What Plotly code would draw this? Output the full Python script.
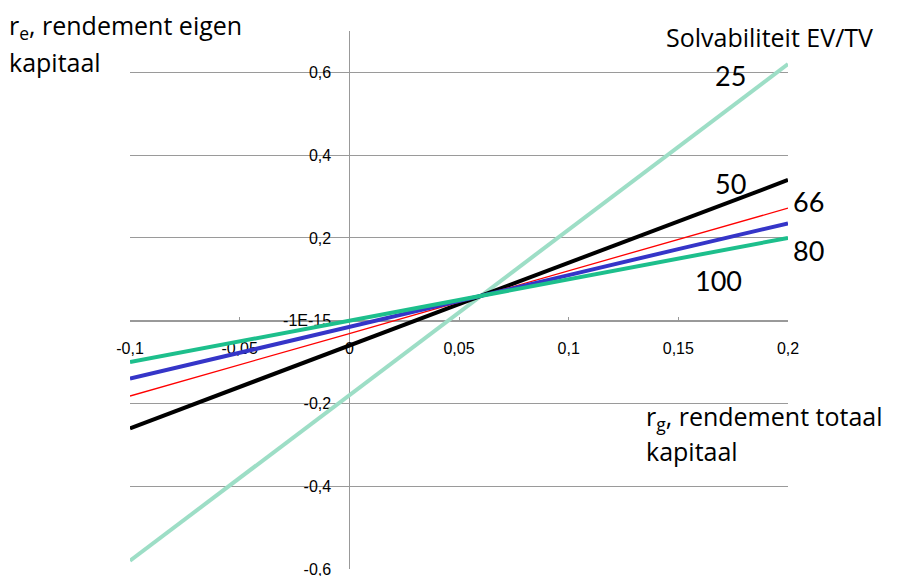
import plotly.graph_objects as go

# Data
rg = [-0.1, -0.05, 0, 0.05, 0.1, 0.15, 0.2]
re_25 = [-0.58, -0.38, -0.18, 0.02, 0.22, 0.42, 0.62]
re_50 = [-0.26, -0.16, -0.06, 0.04, 0.14, 0.24, 0.34]
re_66 = [-0.182, -0.107, -0.031, 0.045, 0.121, 0.196, 0.272]
re_80 = [-0.14, -0.078, -0.015, 0.048, 0.11, 0.173, 0.235]
re_100 = [-0.1, -0.05, 0, 0.05, 0.1, 0.15, 0.2]

x_tickvals = [-0.1, -0.05, 0, 0.05, 0.1, 0.15, 0.2]
x_ticktext = ["-0,1", "-0,05", "0", "0,05", "0,1", "0,15", "0,2"]
y_tickvals = [-0.6, -0.4, -0.2, 0, 0.2, 0.4, 0.6]
y_ticktext = ["-0,6", "-0,4", "-0,2", "-1E-15", "0,2", "0,4", "0,6"]

series = [
    ("25", re_25, "#9DDEC6", 4),
    ("50", re_50, "#000000", 4),
    ("66", re_66, "#FF0000", 1.3),
    ("80", re_80, "#3535C8", 4),
    ("100", re_100, "#1DBF8C", 4),
]

W, H = 909, 576
L, R, T, B = 130, 788, 31, 569

fig = go.Figure()
for name, ys, col, w in series:
    fig.add_trace(go.Scatter(x=rg, y=ys, mode="lines", name=name,
                             line=dict(color=col, width=w), showlegend=False))

TXT = "Open Sans"
NUM = "Lato"
tickfont = dict(family="Arial, Liberation Sans", size=16, color="#000")

fig.update_layout(
    width=W, height=H,
    margin=dict(l=L, r=W - R, t=T, b=H - B, pad=0, autoexpand=False),
    plot_bgcolor="white", paper_bgcolor="white",
    xaxis=dict(range=[-0.1, 0.2], anchor="free", position=0.6 / 1.3,
               tickvals=x_tickvals, ticktext=x_ticktext, tickfont=tickfont,
               showgrid=False, zeroline=False, showline=True,
               linecolor="#999999", linewidth=1,
               ticks="inside", ticklen=4, tickcolor="#999999",
               ticklabelstandoff=13, ticklabeloverflow="allow",
               automargin=False, layer="below traces"),
    yaxis=dict(range=[-0.6, 0.7], anchor="free", position=1 / 3,
               tickvals=y_tickvals, ticktext=y_ticktext, tickfont=tickfont,
               showgrid=True, gridcolor="#9a9a9a", gridwidth=1,
               zeroline=False, showline=True, linecolor="#999999", linewidth=1,
               ticks="", ticklabelstandoff=15, ticklabeloverflow="allow",
               automargin=False, layer="below traces"),
)


def px(xp):
    return (xp - L) / (R - L)


def py(yp):
    return (B - yp) / (B - T)


def note(text, x, y, size, family, xanchor="left"):
    fig.add_annotation(text=text, xref="paper", yref="paper", x=px(x), y=py(y),
                       xanchor=xanchor, yanchor="middle", showarrow=False,
                       font=dict(family=family, size=size, color="#000"))


note("r<sub>e</sub>, rendement eigen", 7, 26, 25, TXT)
note("kapitaal", 7, 62, 25, TXT)
note("Solvabiliteit EV/TV", 664, 37, 25, TXT)
note("r<sub>g</sub>, rendement totaal", 644, 417, 25, TXT)
note("kapitaal", 644, 451, 25, TXT)
note("25", 730, 75, 27, NUM, "center")
note("50", 730, 183, 27, NUM, "center")
note("66", 808, 202, 27, NUM, "center")
note("80", 808, 250, 27, NUM, "center")
note("100", 718, 280, 27, NUM, "center")

fig.write_html("out.html", config={"displayModeBar": False},
               post_script="document.body.style.margin='0';document.body.style.overflow='hidden';")
